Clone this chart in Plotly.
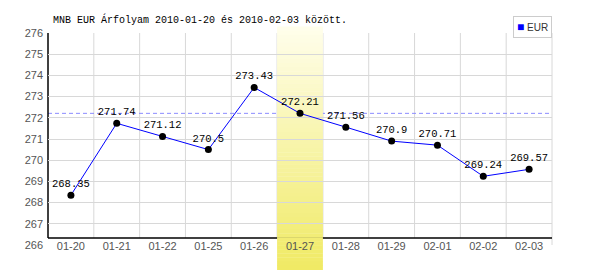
import plotly.graph_objects as go

# ---- data ----
dates = ["01-20", "01-21", "01-22", "01-25", "01-26", "01-27",
         "01-28", "01-29", "02-01", "02-02", "02-03"]
rates = [268.35, 271.74, 271.12, 270.5, 273.43, 272.21,
         271.56, 270.9, 270.71, 269.24, 269.57]
rate_labels = ["268.35", "271.74", "271.12", "270.5", "273.43", "272.21",
               "271.56", "270.9", "270.71", "269.24", "269.57"]
y_ticks = list(range(266, 277))
highlight_idx = 5
series_name = "EUR"
title_text = "MNB EUR Árfolyam 2010-01-20 és 2010-02-03 között."

# ---- layout geometry ----
W, H = 600, 270
ML, MR, MT, MB = 48, 48, 33, 25
plot_h = H - MT - MB
axis_off = 7 / plot_h  # black x-axis line sits 7px above plot bottom

mono = "Liberation Mono"
sans = "Liberation Sans"

fig = go.Figure()
fig.add_trace(go.Scatter(
    x=dates, y=rates, mode="lines+markers+text",
    text=rate_labels, textposition="top center",
    textfont=dict(family=mono, size=10.5, color="#000000"),
    line=dict(color="#0000ff", width=1),
    marker=dict(color="#000000", size=7),
    showlegend=False, cliponaxis=False,
))

shapes = []
n = len(dates)
# vertical gridlines at category boundaries
for k in range(n - 1):
    shapes.append(dict(type="line", layer="between", xref="x", yref="paper",
                       x0=k + 0.5, x1=k + 0.5, y0=axis_off, y1=1,
                       line=dict(color="#d8d8d8", width=1)))
# right border
shapes.append(dict(type="line", layer="between", xref="paper", yref="paper",
                   x0=1, x1=1, y0=0, y1=1, line=dict(color="#d8d8d8", width=1)))
# dashed reference line at highlighted value
shapes.append(dict(type="line", layer="between", xref="paper", yref="y",
                   x0=0, x1=0.995, y0=rates[highlight_idx], y1=rates[highlight_idx],
                   line=dict(color="#8c8cff", width=1, dash="4px,3px")))
# black axis lines
shapes.append(dict(type="line", layer="between", xref="paper", yref="paper",
                   x0=0, x1=1, y0=axis_off, y1=axis_off,
                   line=dict(color="#000000", width=1.5)))
shapes.append(dict(type="line", layer="between", xref="paper", yref="paper",
                   x0=0, x1=0, y0=axis_off, y1=1,
                   line=dict(color="#000000", width=1.5)))
# highlight band with vertical gradient
top_c = (255, 254, 236)
bot_c = (240, 234, 100)
band_top = 1 + 6 / plot_h
band_bot = -MB / plot_h
steps = 60
for i in range(steps):
    t = (i + 0.5) / steps
    c = tuple(round(top_c[j] + (bot_c[j] - top_c[j]) * t) for j in range(3))
    y0 = band_top - (band_top - band_bot) * i / steps
    y1 = band_top - (band_top - band_bot) * (i + 1) / steps
    shapes.append(dict(type="rect", layer="between", xref="x", yref="paper",
                       x0=highlight_idx - 0.5, x1=highlight_idx + 0.5,
                       y0=y1, y1=y0 + 0.002,
                       fillcolor="rgb(%d,%d,%d)" % c, line=dict(width=0)))

fig.update_layout(
    width=W, height=H,
    margin=dict(l=ML, r=MR, t=MT, b=MB, pad=0),
    paper_bgcolor="#ffffff", plot_bgcolor="#ffffff",
    shapes=shapes,
    title=dict(text=title_text, font=dict(family=mono, size=10, color="#000000"),
               x=53 / W, xanchor="left", xref="container",
               y=1 - 19 / H, yanchor="middle", yref="container"),
    xaxis=dict(type="category", range=[-0.5, n - 0.5], showgrid=False,
               showline=False, zeroline=False, ticks="",
               anchor="free", position=axis_off,
               tickfont=dict(family=sans, size=11, color="#555555")),
    yaxis=dict(range=[y_ticks[0], y_ticks[-1]], tickvals=y_ticks,
               showgrid=True, gridcolor="#d8d8d8", gridwidth=1,
               showline=False, zeroline=False, ticks="",
               ticklabelstandoff=4,
               tickfont=dict(family=sans, size=11, color="#555555")),
    showlegend=False,
    annotations=[dict(
        xref="paper", yref="paper", x=1, y=1 + 17 / plot_h,
        xanchor="right", yanchor="top",
        text="<span style='color:#0000ff;font-size:12px'>■</span> " + series_name,
        showarrow=False, bordercolor="#cccccc", borderwidth=1, borderpad=3,
        bgcolor="#ffffff",
        font=dict(family=sans, size=10, color="#333333"))],
)

fig.write_html("out.html")
